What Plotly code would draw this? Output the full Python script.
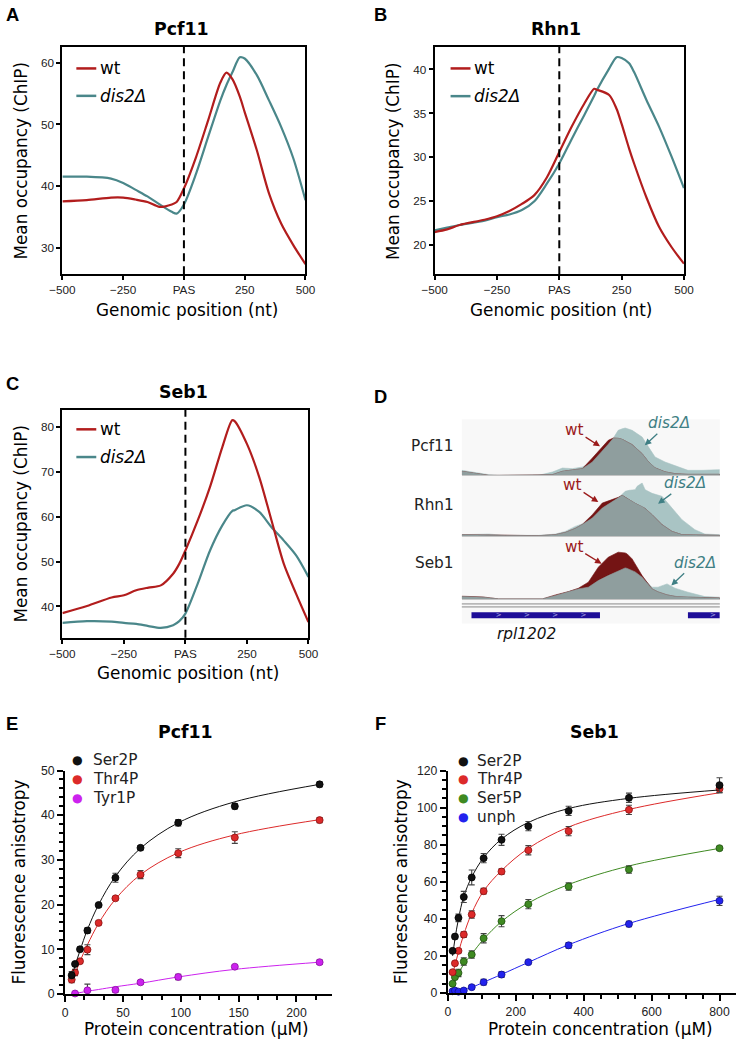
import plotly.graph_objects as go

W, H = 746, 1040
# empirical page-to-photo mapping compensation
SX, OX, SY, OY = 0.973, 10.4, 0.986, 6.9
def DX(x): return (x - OX) / SX
def DY(y): return (y - OY) / SY
def PX(x): return min(1.0, max(0.0, DX(x) / W))
def PY(y): return min(1.0, max(0.0, 1 - DY(y) / H))
FS = 1 / 0.98

# ---------------- Panel A-C: metagene profiles ----------------
pos_A = [-500, -400, -300, -250, -200, -150, -100, -50, -30, 0, 50, 100, 150, 175, 200, 230, 250, 300, 350, 400, 450, 500]
wt_A = [37.5, 37.7, 38.1, 38.1, 37.8, 37.4, 36.6, 37.0, 37.4, 39.6, 44.7, 50.7, 56.8, 58.4, 57.3, 54.5, 52.0, 45.8, 38.8, 33.9, 30.4, 27.3]
dis_A = [41.5, 41.5, 41.2, 40.5, 39.4, 38.3, 37.0, 35.8, 35.5, 37.0, 42.0, 48.0, 53.9, 56.4, 58.5, 60.9, 60.7, 58.0, 53.9, 49.6, 44.5, 37.7]

pos_B = [-500, -450, -400, -300, -250, -200, -150, -100, -50, 0, 50, 100, 140, 150, 200, 230, 250, 280, 300, 350, 400, 450, 500]
wt_B = [21.5, 21.8, 22.3, 22.9, 23.3, 23.9, 24.7, 25.7, 27.7, 30.6, 33.5, 36.1, 37.8, 37.7, 37.1, 35.5, 33.8, 31.0, 29.3, 25.4, 22.1, 19.8, 17.9]
dis_B = [21.7, 22.0, 22.3, 22.8, 23.2, 23.5, 24.0, 25.0, 27.0, 29.3, 32.1, 34.8, 37.0, 37.6, 40.1, 41.4, 41.3, 40.7, 39.7, 36.5, 33.5, 30.1, 26.5]

pos_C = [-500, -400, -300, -250, -200, -150, -100, -50, -25, 0, 50, 100, 150, 190, 200, 250, 300, 350, 400, 450, 500]
wt_C = [38.5, 40.1, 42.0, 42.5, 43.6, 44.2, 44.7, 47.3, 49.5, 52.5, 59.2, 66.7, 75.6, 81.6, 81.4, 76.3, 68.9, 59.2, 49.5, 42.8, 36.5]
dis_C = [36.3, 36.7, 36.6, 36.3, 36.1, 35.6, 35.2, 35.8, 36.7, 38.4, 45.1, 52.5, 58.1, 61.3, 61.5, 62.6, 61.1, 57.7, 54.7, 51.4, 46.6]

pos_ticks = [-500, -250, 0, 250, 500]
pos_ticktext = ["\u2212500", "\u2212250", "PAS", "250", "500"]

# ---------------- Panel D: browser tracks ----------------
d_pcf_pos = [0, 14, 27, 37, 77, 91, 101, 111, 121, 131, 141, 147, 152, 157, 161, 164, 171, 181, 187, 194, 204, 214, 227, 241, 259]
d_pcf_dis = [5, 2.7, 0.7, 0, 0, 3.3, 7.3, 6.7, 8.3, 13.3, 24, 31, 37, 45, 46.5, 47.3, 45, 38.3, 29, 18.3, 13.3, 10, 5, 5, 5.7]
d_pcf_wt = [4, 1.7, 0, 0, 0, 0.7, 4, 5, 6.7, 17.3, 28.3, 35, 37.3, 37, 36, 34.5, 30.7, 21.7, 14, 7.5, 3.5, 1.7, 1, 1, 1]

d_rhn_pos = [0, 27, 44, 77, 94, 104, 114, 121, 131, 141, 151, 157, 161, 164, 168, 174, 176, 181, 184, 191, 201, 211, 221, 234, 244, 259]
d_rhn_dis = [1.7, 2.3, 1, 1, 2.3, 5, 10, 12.5, 18.3, 28.3, 35, 38.3, 42, 45, 46, 46.7, 50, 53.3, 46.7, 43, 40, 28.3, 16.7, 6.7, 2.3, 1.7]
d_rhn_wt = [1.7, 1.7, 1.2, 0.7, 1.7, 4, 8, 12, 21.7, 33.3, 36.7, 39, 41, 39, 36.7, 33, 32, 30, 28, 21.7, 11.7, 5, 1.7, 1.5, 1.2, 1]

d_seb_pos = [0, 21, 37, 81, 94, 107, 117, 127, 137, 147, 157, 164, 166, 171, 174, 181, 191, 197, 206, 214, 227, 244, 259]
d_seb_dis = [2.3, 1.7, 0, 0, 3.3, 6.7, 10, 11.7, 18.3, 23.3, 28.3, 31, 30.5, 28.3, 27, 21.7, 11.7, 11.7, 15, 10.7, 6.7, 2.3, 1.7]
d_seb_wt = [2.7, 2, 0, 0, 4, 7.3, 10.7, 16.7, 31.7, 41.7, 46.7, 46, 45, 40, 35, 23.3, 10, 7, 4, 2.5, 1.7, 1.2, 1]

gene_x = [9.7, 138.7, None, 227, 259]
gene_y = [0, 0, None, 0, 0]
gene_strand_x = [37, 65.3, 93.7, 122, 252]

# ---------------- Panel E: Pcf11 binding ----------------
conc_E = [5.7, 8.6, 12.9, 19.3, 29.0, 43.5, 65.2, 97.8, 146.7, 220.0]
E_ser2 = [4.2, 6.7, 10.0, 14.2, 19.9, 26.0, 32.7, 38.3, 42.0, 46.9]
E_ser2_err = [0.8, 0.4, 0.5, 0.6, 0.4, 1.0, 0.5, 0.7, 0.6, 0.6]
E_thr4 = [3.2, 4.8, 7.3, 9.9, 15.9, 21.4, 26.7, 31.5, 35.0, 38.9]
E_thr4_err = [0.7, 0.7, 0.5, 1.1, 0.4, 0.3, 0.9, 1.0, 1.3, 0.6]
E_tyr1 = [None, 0.1, None, 0.8, None, 0.9, 2.6, 3.8, 6.1, 7.1]
E_tyr1_err = [None, 0.2, None, 1.4, None, 0.5, 0.4, 0.6, 0.3, 0.5]
fitE_x = [5.7, 8.6, 12.9, 19.3, 29.0, 43.5, 65.2, 97.8, 146.7, 220.0]
fitE_ser2 = [3.9, 6.3, 9.7, 14.4, 20.0, 26.3, 32.6, 38.3, 43.0, 46.9]
fitE_thr4 = [2.8, 4.5, 7.3, 11.0, 15.8, 21.2, 26.7, 31.6, 35.6, 39.0]
fitE_tyr1 = [None, 0.05, 0.3, 0.6, 1.0, 1.6, 2.4, 3.8, 5.5, 7.1]

# ---------------- Panel F: Seb1 binding ----------------
conc_F = [13.9, 20.8, 31.2, 46.8, 70.2, 105.3, 158.0, 237.0, 355.6, 533.3, 800.0]
F_ser2 = [22.7, 30.4, 40.5, 51.8, 62.3, 72.7, 82.6, 90.0, 98.2, 105.3, 112.1]
F_ser2_err = [0.6, 1.2, 2.0, 3.0, 4.0, 2.5, 3.0, 2.5, 2.5, 2.5, 4.0]
F_thr4 = [11.2, 16.0, 22.7, 31.5, 42.3, 54.9, 65.5, 77.0, 87.3, 98.8, 110.1]
F_thr4_err = [1.0, 1.0, 1.0, 1.5, 2.0, 1.5, 1.5, 2.5, 2.5, 2.5, 2.0]
F_ser5 = [5.0, 8.5, 10.8, 16.9, 20.7, 29.5, 38.7, 47.9, 57.4, 66.6, 78.1]
F_ser5_err = [0.8, 1.0, 2.0, 2.0, 2.0, 2.5, 3.0, 2.5, 2.0, 2.0, 1.0]
F_unph = [0.9, 1.3, 0.7, 1.3, 3.1, 5.8, 9.9, 16.6, 25.7, 37.2, 49.7]
F_unph_err = [0.5, 1.0, 0.5, 1.0, 1.0, 1.5, 1.5, 1.0, 1.5, 1.5, 2.5]
fitF_ser2 = [20.0, 29.0, 40.0, 52.0, 62.5, 73.0, 83.0, 92.0, 99.5, 105.0, 109.5]
fitF_thr4 = [10.0, 15.0, 22.0, 31.5, 43.0, 55.0, 66.0, 78.0, 89.5, 99.0, 108.0]
fitF_ser5 = [5.0, 7.0, 10.5, 15.5, 21.0, 29.0, 38.5, 48.5, 58.5, 68.5, 78.0]
fitF_unph = [0.3, 0.5, 1.0, 1.8, 3.0, 5.8, 10.0, 16.5, 26.0, 37.5, 50.5]

RED = '#b21d1d'
TEAL = '#4a878a'

fig = go.Figure()

for ax, pos, wt, dis in [("", pos_A, wt_A, dis_A), ("2", pos_B, wt_B, dis_B), ("3", pos_C, wt_C, dis_C)]:
    fig.add_trace(go.Scatter(x=pos, y=dis, mode='lines', line=dict(color=TEAL, width=2.2, shape='spline', smoothing=0.8),
                             xaxis='x' + ax, yaxis='y' + ax, showlegend=False, hoverinfo='skip'))
    fig.add_trace(go.Scatter(x=pos, y=wt, mode='lines', line=dict(color=RED, width=2.2, shape='spline', smoothing=0.8),
                             xaxis='x' + ax, yaxis='y' + ax, showlegend=False, hoverinfo='skip'))

D_TEAL = '#a9c4c4'
D_GRAY = '#8f9e9e'
D_RED = '#741414'
for ax, pos, wt, dis in [("4", d_pcf_pos, d_pcf_wt, d_pcf_dis), ("5", d_rhn_pos, d_rhn_wt, d_rhn_dis), ("6", d_seb_pos, d_seb_wt, d_seb_dis)]:
    ov = [min(a, b) for a, b in zip(wt, dis)]
    for yy, col in [(dis, D_TEAL), (wt, D_RED), (ov, D_GRAY)]:
        fig.add_trace(go.Scatter(x=pos, y=yy, mode='lines', fill='tozeroy', fillcolor=col,
                                 line=dict(width=0.6, color=col), xaxis='x' + ax, yaxis='y' + ax,
                                 showlegend=False, hoverinfo='skip'))
fig.add_trace(go.Scatter(x=gene_x, y=gene_y, mode='lines', line=dict(color='#1e0e98', width=6),
                         xaxis='x7', yaxis='y7', showlegend=False, hoverinfo='skip'))
fig.add_trace(go.Scatter(x=gene_strand_x, y=[0] * len(gene_strand_x), mode='text', text=['>'] * len(gene_strand_x),
                         textfont=dict(size=7, color='#a8a8e0', family='DejaVu Sans'),
                         xaxis='x7', yaxis='y7', showlegend=False, hoverinfo='skip'))

def add_binding(ax, x, fitx, fity, y, err, color, edge):
    fig.add_trace(go.Scatter(x=fitx, y=fity, mode='lines', line=dict(color=color, width=1, shape='spline'),
                             connectgaps=False, xaxis='x' + ax, yaxis='y' + ax, showlegend=False, hoverinfo='skip'))
    fig.add_trace(go.Scatter(x=x, y=y, mode='markers',
                             marker=dict(color=color, size=7, line=dict(color=edge, width=0.8)),
                             error_y=dict(type='data', array=err, color='#444444', thickness=1.1, width=3),
                             cliponaxis=False, xaxis='x' + ax, yaxis='y' + ax, showlegend=False, hoverinfo='skip'))

C_BLACK = '#111111'
C_RED = '#dc2a2a'
C_MAG = '#cc22ee'
C_GREEN = '#3f8a22'
C_BLUE = '#2222ee'
add_binding('8', conc_E, fitE_x, fitE_tyr1, E_tyr1, E_tyr1_err, C_MAG, '#8a10a0')
add_binding('8', conc_E, fitE_x, fitE_thr4, E_thr4, E_thr4_err, C_RED, '#8a1010')
add_binding('8', conc_E, fitE_x, fitE_ser2, E_ser2, E_ser2_err, C_BLACK, '#000000')
add_binding('9', conc_F, conc_F, fitF_unph, F_unph, F_unph_err, C_BLUE, '#10108a')
add_binding('9', conc_F, conc_F, fitF_ser5, F_ser5, F_ser5_err, C_GREEN, '#1f5010')
add_binding('9', conc_F, conc_F, fitF_thr4, F_thr4, F_thr4_err, C_RED, '#8a1010')
add_binding('9', conc_F, conc_F, fitF_ser2, F_ser2, F_ser2_err, C_BLACK, '#000000')

# ---------------- Layout ----------------
tickfont = dict(family='Liberation Sans, Arial', size=11.5 * FS, color='#222222')
box = dict(showline=True, linecolor='black', linewidth=2, mirror=True, ticks='outside', ticklen=4,
           tickwidth=1.5, tickcolor='black', showgrid=False, zeroline=False, tickfont=tickfont)

layout = dict(width=W, height=H, margin=dict(l=0, r=0, t=0, b=0), paper_bgcolor='white',
              plot_bgcolor='rgba(0,0,0,0)', showlegend=False)

def xdom(a, b): return [PX(a), PX(b)]
def ydom(bottom, top): return [PY(bottom), PY(top)]

layout['xaxis'] = dict(box, domain=xdom(60, 304), range=[-500, 500], tickvals=pos_ticks, ticktext=pos_ticktext, anchor='y')
layout['yaxis'] = dict(box, domain=ydom(274, 47), range=[25.66, 62.55], tickvals=[30, 40, 50, 60], anchor='x')
layout['xaxis2'] = dict(box, domain=xdom(433.7, 684), range=[-500, 500], tickvals=pos_ticks, ticktext=pos_ticktext, anchor='y2')
layout['yaxis2'] = dict(box, domain=ydom(274, 47), range=[16.7, 42.54], tickvals=[20, 25, 30, 35, 40], anchor='x2')
layout['xaxis3'] = dict(box, domain=xdom(60, 307), range=[-500, 500], tickvals=pos_ticks, ticktext=pos_ticktext, anchor='y3')
layout['yaxis3'] = dict(box, domain=ydom(637.3, 409.3), range=[33.0, 83.96], tickvals=[40, 50, 60, 70, 80], anchor='x3')

dx = dict(range=[0, 259], showgrid=False, zeroline=False, showticklabels=False, ticks='', fixedrange=True)
dy = dict(showgrid=False, zeroline=False, showticklabels=False, ticks='', fixedrange=True, showline=False)
Ddom = xdom(461, 720)
layout['xaxis4'] = dict(dx, domain=Ddom, anchor='y4', showline=True, linecolor='#c4c4c4', linewidth=1)
layout['yaxis4'] = dict(dy, domain=ydom(475, 419), range=[0, 56], anchor='x4')
layout['xaxis5'] = dict(dx, domain=Ddom, anchor='y5', showline=True, linecolor='#c4c4c4', linewidth=1)
layout['yaxis5'] = dict(dy, domain=ydom(536, 477), range=[0, 59], anchor='x5')
layout['xaxis6'] = dict(dx, domain=Ddom, anchor='y6', showline=True, linecolor='#c4c4c4', linewidth=1)
layout['yaxis6'] = dict(dy, domain=ydom(598.5, 539), range=[0, 59.5], anchor='x6')
layout['xaxis7'] = dict(dx, domain=Ddom, anchor='y7', showline=False)
layout['yaxis7'] = dict(dy, domain=ydom(623, 600), range=[-0.361, 0.639], anchor='x7')

open_ax = dict(showline=True, linecolor='black', linewidth=2, ticks='outside', ticklen=6, tickwidth=1.5,
               tickcolor='black', showgrid=False, zeroline=False,
               tickfont=dict(family='Liberation Sans, Arial', size=12 * FS, color='#222222'))
mt = dict(ticklen=4, tickwidth=1.5, tickcolor='black', ticks='outside', tick0=0)
layout['xaxis8'] = dict(open_ax, domain=xdom(62.7, 331), range=[0, 231], tick0=0, dtick=50, anchor='y8',
                        minor=dict(mt, dtick=50 / 3))
layout['yaxis8'] = dict(open_ax, domain=ydom(993.3, 770), range=[0, 50], tick0=0, dtick=10, anchor='x8',
                        minor=dict(mt, dtick=2))
# F x axis: keep 0 and 800 where they sit in the reference, clip the domain at the page edge
f_left, f_800 = DX(447), DX(719.7)
f_right = min(W, DX(739.7))
f_max = 800 * (f_right - f_left) / (f_800 - f_left)
layout['xaxis9'] = dict(open_ax, domain=[f_left / W, f_right / W], range=[0, f_max], tick0=0, dtick=200, anchor='y9',
                        minor=dict(mt, dtick=50))
layout['yaxis9'] = dict(open_ax, domain=ydom(992.3, 770), range=[0, 120], tick0=0, dtick=20, anchor='x9',
                        minor=dict(mt, dtick=5))

fig.update_layout(**layout)

shapes = []
for ax in ['', '2', '3']:
    shapes.append(dict(type='line', xref='x' + ax, yref='y' + ax + ' domain', x0=0, x1=0, y0=0, y1=1,
                       line=dict(color='black', width=2, dash='8px,5px')))
shapes.append(dict(type='rect', xref='paper', yref='paper', x0=PX(461), x1=PX(720), y0=PY(623), y1=PY(419),
                   fillcolor='#f8f8f8', line=dict(width=0), layer='below'))
for yy in [603.5, 606.5]:
    shapes.append(dict(type='line', xref='paper', yref='paper', x0=PX(461), x1=PX(720), y0=PY(yy), y1=PY(yy),
                       line=dict(color='#8a8a8a', width=1)))
for (x0, yw, yd) in [(74, 68.3, 95.7), (449.7, 68.3, 96.0), (74, 429.0, 456.7)]:
    shapes.append(dict(type='line', xref='paper', yref='paper', x0=PX(x0), x1=PX(x0 + 20), y0=PY(yw), y1=PY(yw),
                       line=dict(color=RED, width=2.5)))
    shapes.append(dict(type='line', xref='paper', yref='paper', x0=PX(x0), x1=PX(x0 + 20), y0=PY(yd), y1=PY(yd),
                       line=dict(color=TEAL, width=2.5)))
fig.update_layout(shapes=shapes)

ann = []
def T(text, x, y, size=16, family='DejaVu Sans', color='black', xanchor='center', yanchor='middle', angle=0):
    ann.append(dict(text=text, x=DX(x) / W, y=1 - DY(y) / H, xref='paper', yref='paper', showarrow=False,
                    xanchor=xanchor, yanchor=yanchor, textangle=angle,
                    font=dict(size=size * FS, family=family, color=color)))

for L, x, y in [("A", 10, 14), ("B", 379, 14), ("C", 10, 383), ("D", 379, 396), ("E", 9, 723), ("F", 379, 723)]:
    T("<b>%s</b>" % L, x, y, size=18, family='Liberation Sans, Arial')
for t, x, y in [("Pcf11", 180, 29), ("Rhn1", 555.7, 29), ("Seb1", 181.7, 391.7), ("Pcf11", 184, 731.7), ("Seb1", 594, 731.7)]:
    T("<b>%s</b>" % t, x, y, size=17)
for x, y in [(18.3, 160.5), (391.3, 160.5), (18.3, 523.3)]:
    T("Mean occupancy (ChIP)", x, y, size=16.5, angle=-90)
for x, y in [(185, 309.3), (561, 309.3), (186, 672.6)]:
    T("Genomic position (nt)", x, y, size=16.5)
T("Protein concentration (\u03bcM)", 195, 1028, size=16.5)
T("Protein concentration (\u03bcM)", 600.7, 1028, size=16.5)
T("Fluorescence anisotropy", 16.7, 881.7, size=16.5, angle=-90)
T("Fluorescence anisotropy", 399.7, 881.0, size=16.5, angle=-90)
for (x0, yw, yd) in [(74, 68.3, 95.7), (449.7, 68.3, 96.0), (74, 429.0, 456.7)]:
    T("wt", x0 + 22, yw, size=16.5, xanchor='left')
    T("<i>dis2\u0394</i>", x0 + 22, yd, size=16.5, xanchor='left')
for lab, col, y in [("Ser2P", C_BLACK, 759.3), ("Thr4P", C_RED, 778.3), ("Tyr1P", C_MAG, 797.3)]:
    T("\u25cf", 75, y, size=12, color=col)
    T(lab, 88.3, y, size=15, xanchor='left', color='#222222')
for lab, col, y in [("Ser2P", C_BLACK, 760), ("Thr4P", C_RED, 778.7), ("Ser5P", C_GREEN, 797.3), ("unph", C_BLUE, 816)]:
    T("\u25cf", 462.3, y, size=12, color=col)
    T(lab, 474.7, y, size=15, xanchor='left', color='#222222')
for lab, y in [("Pcf11", 446), ("Rhn1", 505), ("Seb1", 562.7)]:
    T(lab, 455, y, size=15, xanchor='right', color='#222222')
T("<i>rpl1202</i>", 526.3, 633.3, size=15, color='#111111')

for txt, col, hx, hy, axp, ayp in [
    ("wt", '#9b1b1b', 599.7, 446, -24.7, -16),
    ("<i>dis2\u0394</i>", '#3f7f84', 644.7, 445, 23.3, -21.7),
    ("wt", '#9b1b1b', 598, 501.7, -25, -16.7),
    ("<i>dis2\u0394</i>", '#3f7f84', 658, 503.3, 26.7, -20),
    ("wt", '#9b1b1b', 601.3, 563.3, -26.6, -16.6),
    ("<i>dis2\u0394</i>", '#3f7f84', 671.3, 585, 23.4, -22.3)]:
    ann.append(dict(text=txt, x=DX(hx) / W, y=1 - DY(hy) / H, xref='paper', yref='paper', showarrow=True,
                    ax=axp / SX, ay=ayp / SY, arrowhead=2, arrowsize=1, arrowwidth=1.3, arrowcolor=col,
                    font=dict(size=15 * FS, family='DejaVu Sans', color=col)))

fig.update_layout(annotations=ann)
fig.write_html("out.html", config={'displayModeBar': False},
               post_script="document.body.style.margin='0px';document.body.style.overflow='hidden';")
